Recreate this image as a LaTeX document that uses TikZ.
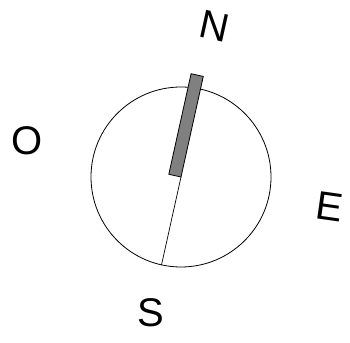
\documentclass[tikz,border=0pt]{standalone}
\usepackage{fontspec}
\setmainfont{Liberation Sans}
\usetikzlibrary{calc}
\begin{document}
\begin{tikzpicture}[x=1pt,y=1pt,
  lbl/.style={inner sep=0pt,font=\fontsize{40}{42}\selectfont}]
\useasboundingbox (0,0) rectangle (350,342);
\coordinate (c) at (181,165);
\node[circle,draw,line width=0.8pt,minimum size=180pt,inner sep=0pt] (dial) at (c) {};
\coordinate (s) at ($(c)+(257.5:90)$);
\draw[line width=0.7pt] (c) -- (s);
\begin{scope}[shift={(c)},rotate=-12.5]
\fill[fill=gray,draw=black,line width=0.8pt] (-12.5,0) rectangle (0,103);
\end{scope}
\node[lbl,rotate=-12.5] (n) at (215,316) {N};
\node[lbl] (o) at (27,201) {O};
\node[lbl,rotate=-8] (e) at (330,135) {E};
\node[lbl] (sl) at (151,29) {S};
\end{tikzpicture}
\end{document}
